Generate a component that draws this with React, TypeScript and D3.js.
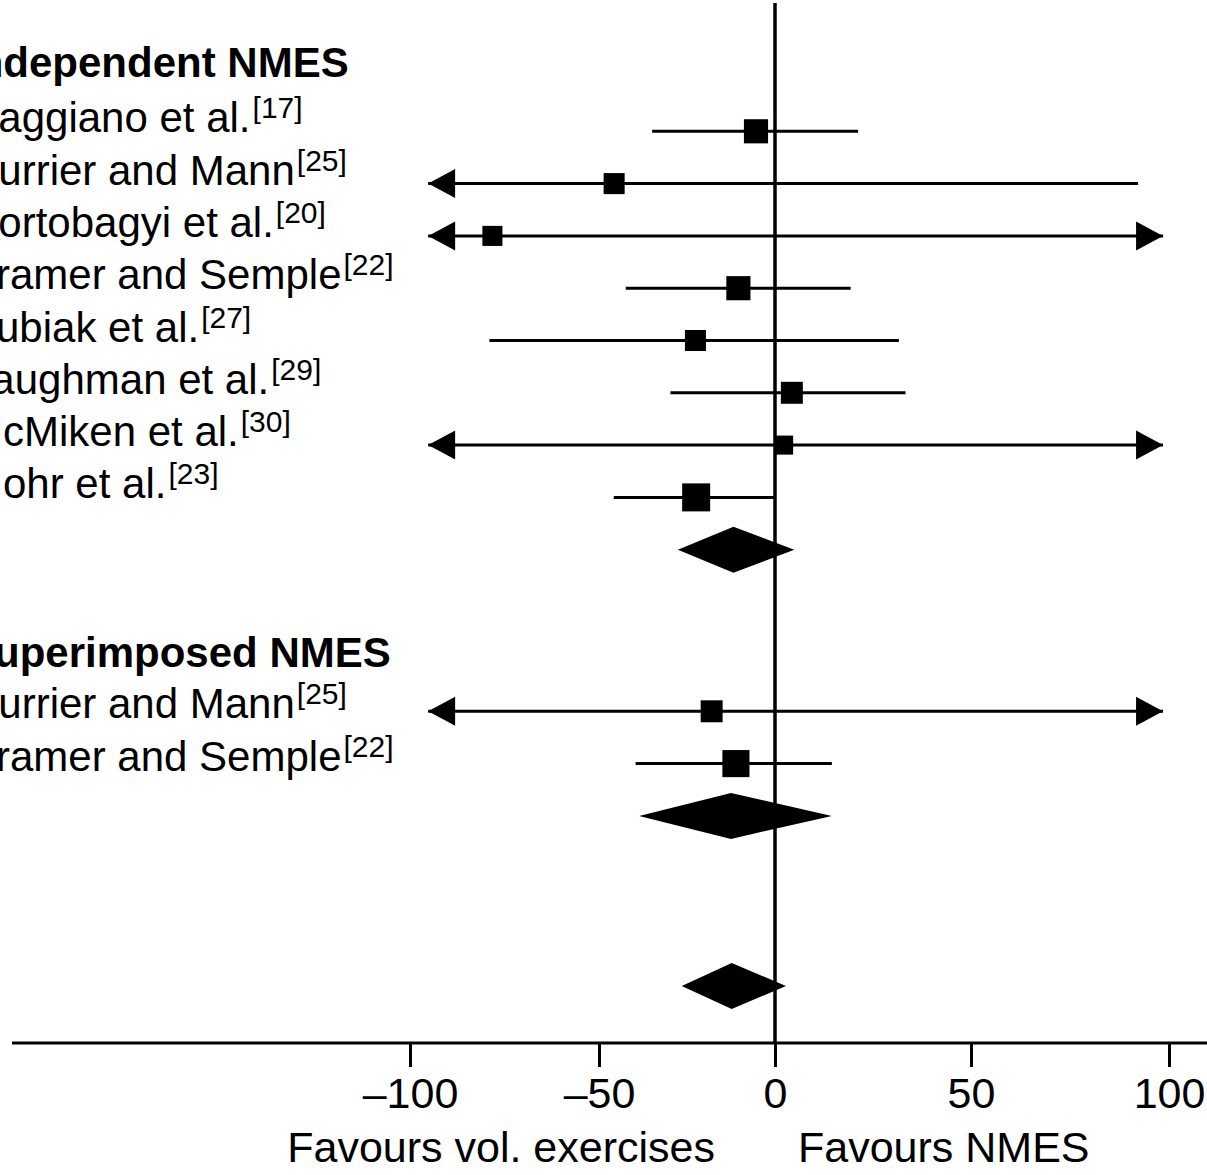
import React, { useEffect, useRef } from "react";
import * as d3 from "d3";

// ---- data ----
const tickValues = [-100, -50, 0, 50, 100];
const displayLimits = [-95.2, 98.5]; // CI beyond these are drawn as arrows

const headers = ["Independent NMES", "Superimposed NMES"];

const independentStudies = [
  "Caggiano et al.",
  "Currier and Mann",
  "Hortobagyi et al.",
  "Kramer and Semple",
  "Kubiak et al.",
  "Laughman et al.",
  "McMiken et al.",
  "Mohr et al.",
];
const independentRefs = ["17", "25", "20", "22", "27", "29", "30", "23"];
const independentEst = [-5.4, -45.7, -78.2, -10.4, -22.6, 4.3, 2.2, -22.4];
const independentLo = [-34.9, -130, -140, -42.4, -79.0, -29.7, -125, -45.8];
const independentHi = [21.2, 92.2, 130, 19.3, 31.6, 33.3, 125, 0];
const independentWeight = [58, 44, 40, 58, 44, 48, 36, 78];

const superimposedStudies = ["Currier and Mann", "Kramer and Semple"];
const superimposedRefs = ["25", "22"];
const superimposedEst = [-18.0, -11.1];
const superimposedLo = [-130, -39.6];
const superimposedHi = [125, 14.5];
const superimposedWeight = [48, 73];

const pooledLabels = ["Independent NMES", "Superimposed NMES", "Overall"];
const pooledEst = [-11.8, -12.5, -12.3];
const pooledLo = [-27.6, -38.6, -26.5];
const pooledHi = [4.9, 14.5, 2.8];

const favourLabels = ["Favours vol. exercises", "Favours NMES"];

// ---- layout ----
const W = 1207;
const H = 1175;
const FONT = "'Liberation Sans', Arial, Helvetica, sans-serif";
const section1Top = 79;
const section2Top = 659;
const rowStep = 52.3;
const overallY = 986;
const axisY = 1043;
const labelX = -32;
const headerX = -34;

export default function App() {
  const axisRef = useRef<SVGGElement>(null);

  const x = d3
    .scaleLinear()
    .domain(tickValues)
    .range([410, 599, 775, 971, 1169]);

  const size = d3
    .scaleSqrt()
    .domain([0, d3.max([...independentWeight, ...superimposedWeight]) as number])
    .range([0, 28]);

  useEffect(() => {
    if (!axisRef.current) return;
    const g = d3.select(axisRef.current);
    g.call(
      d3
        .axisBottom(x)
        .tickValues(tickValues)
        .tickSize(24)
        .tickFormat((d: any) => (d < 0 ? "\u2013" + Math.abs(d) : String(d)))
    );
    g.select(".domain").remove();
    g.attr("font-size", null).attr("font-family", null);
    g.selectAll(".tick line").attr("stroke", "#000").attr("stroke-width", 3);
    g.selectAll(".tick text")
      .attr("y", 65)
      .attr("dy", "0")
      .attr("fill", "#000")
      .attr("font-size", 43)
      .attr("font-family", FONT);
  }, []);

  const rows1 = independentStudies.map((name, i) => ({
    name,
    ref: independentRefs[i],
    est: independentEst[i],
    lo: independentLo[i],
    hi: independentHi[i],
    w: independentWeight[i],
    y: section1Top + rowStep * (i + 1),
    ty: section1Top + rowStep * (i + 1) + 1,
  }));
  const rows2 = superimposedStudies.map((name, i) => ({
    name,
    ref: superimposedRefs[i],
    est: superimposedEst[i],
    lo: superimposedLo[i],
    hi: superimposedHi[i],
    w: superimposedWeight[i],
    y: section2Top + rowStep * (i + 1),
    ty: section2Top + rowStep * (i + 1) + 7,
  }));
  const pooledY = [
    section1Top + rowStep * (independentStudies.length + 1),
    section2Top + rowStep * (superimposedStudies.length + 1),
    overallY,
  ];
  const headerY = [section1Top - 2, section2Top + 8];

  const [limLo, limHi] = displayLimits;
  const arrowW = 27;
  const arrowH = 14.5;

  const renderStudy = (r: any, key: string) => {
    const x1 = x(Math.max(r.lo, limLo));
    const x2 = x(Math.min(r.hi, limHi));
    const s = size(r.w);
    return (
      <g key={key}>
        <line x1={x1} x2={x2} y1={r.y} y2={r.y} stroke="#000" strokeWidth={3} />
        {r.lo < limLo && (
          <polygon
            points={`${x1},${r.y} ${x1 + arrowW},${r.y - arrowH} ${x1 + arrowW},${r.y + arrowH}`}
            fill="#000"
          />
        )}
        {r.hi > limHi && (
          <polygon
            points={`${x2},${r.y} ${x2 - arrowW},${r.y - arrowH} ${x2 - arrowW},${r.y + arrowH}`}
            fill="#000"
          />
        )}
        <rect x={x(r.est) - s / 2} y={r.y - s / 2} width={s} height={s} fill="#000" />
      </g>
    );
  };

  const renderLabel = (r: any, key: string) => (
    <text key={key} x={labelX} y={r.ty} fontSize={42} fontFamily={FONT} fill="#000">
      {r.name}
      <tspan fontSize={30} dx={2} dy={-14}>
        {`[${r.ref}]`}
      </tspan>
    </text>
  );

  return (
    <svg
      width={W}
      height={H}
      style={{ position: "absolute", left: 0, top: 0, display: "block", background: "#fff" }}
    >
      <rect x={0} y={0} width={W} height={H} fill="#fff" />
      {/* headers */}
      {headers.map((h, i) => (
        <text
          key={h}
          x={headerX}
          y={headerY[i]}
          fontSize={42}
          fontWeight="bold"
          fontFamily={FONT}
          fill="#000"
        >
          {h}
        </text>
      ))}
      {rows1.map((r, i) => renderLabel(r, "l1" + i))}
      {rows2.map((r, i) => renderLabel(r, "l2" + i))}

      {/* zero line */}
      <line x1={x(0)} x2={x(0)} y1={3} y2={axisY} stroke="#000" strokeWidth={3.5} />

      {rows1.map((r, i) => renderStudy(r, "s1" + i))}
      {rows2.map((r, i) => renderStudy(r, "s2" + i))}

      {/* pooled diamonds */}
      {pooledLabels.map((lab, i) => {
        const y = pooledY[i];
        const h = 23;
        return (
          <polygon
            key={lab}
            points={`${x(pooledLo[i])},${y} ${x(pooledEst[i])},${y - h} ${x(pooledHi[i])},${y} ${x(pooledEst[i])},${y + h}`}
            fill="#000"
          />
        );
      })}

      {/* axis */}
      <line x1={12} x2={W} y1={axisY} y2={axisY} stroke="#000" strokeWidth={3} />
      <g ref={axisRef} transform={`translate(0,${axisY})`} />

      <text
        x={x(0) - 60}
        y={1162}
        textAnchor="end"
        fontSize={43}
        fontFamily={FONT}
        fill="#000"
      >
        {favourLabels[0]}
      </text>
      <text x={x(0) + 23} y={1162} textAnchor="start" fontSize={43} fontFamily={FONT} fill="#000">
        {favourLabels[1]}
      </text>
    </svg>
  );
}
